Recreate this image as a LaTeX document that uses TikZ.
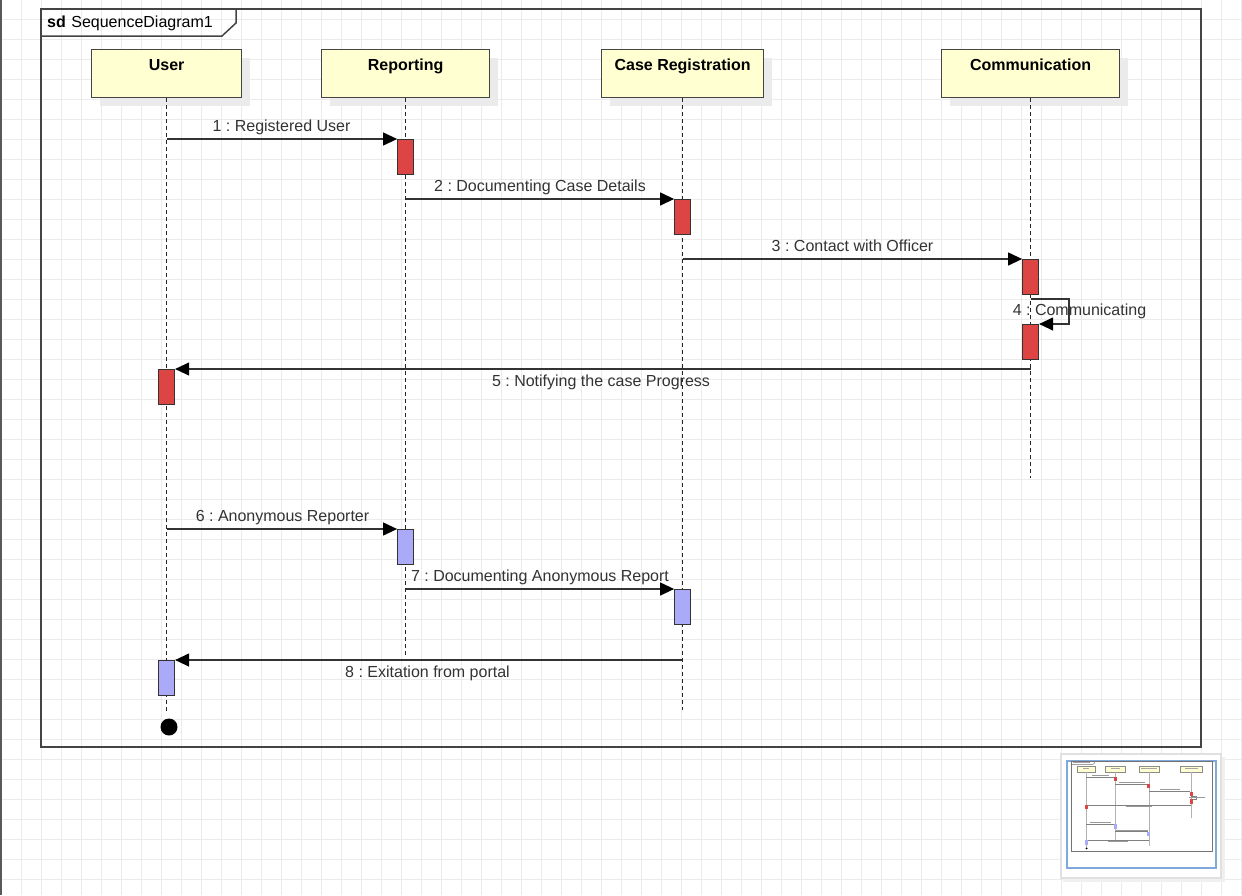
\documentclass[tikz,border=0pt]{standalone}
\usepackage{fontspec}
\setmainfont{Liberation Sans}
\usetikzlibrary{arrows.meta,shadows}
\definecolor{gridc}{HTML}{EBEBEB}
\definecolor{ink}{HTML}{333333}
\definecolor{framec}{HTML}{444444}
\definecolor{headfill}{HTML}{FFFFD2}
\definecolor{actred}{HTML}{DD4444}
\definecolor{actblue}{HTML}{AAAAF8}
\definecolor{minib}{HTML}{7FA8DC}
\frenchspacing
\begin{document}
\begin{tikzpicture}[x=1pt,y=-1pt,
  head/.style={draw=framec, line width=1.2pt, fill=headfill, minimum width=#1,
    minimum height=48pt, inner sep=0pt, anchor=north west,
    font=\bfseries\fontsize{16}{19}\selectfont, text=black,
    text height=12pt, text depth=18pt,
    general shadow={fill=black!8, shadow xshift=8pt, shadow yshift=-8pt}},
  lifeline/.style={black!85, line width=1.3pt, dash pattern=on 4pt off 3pt},
  actbox/.style={anchor=north, minimum width=16pt, minimum height=35pt, inner sep=0pt,
    draw=ink, line width=1pt},
  actr/.style={actbox, fill=actred},
  actb/.style={actbox, fill=actblue},
  msg/.style={ink, line width=1.2pt, -{Triangle[length=14pt,width=13pt,color=black]}},
  lbl/.style={anchor=base, inner sep=0pt, text=ink, font=\fontsize{16}{19}\selectfont},
  mline/.style={black!50, line width=0.3pt},
]
\useasboundingbox (0,0) rectangle (1242,895);
\fill[white] (0,0) rectangle (1242,895);
% background grid
\foreach \gx in {1,21,...,1241} \draw[gridc, line width=0.8pt] (\gx,0) -- (\gx,895);
\foreach \gy in {19,39,...,879} \draw[gridc, line width=0.8pt] (0,\gy) -- (1242,\gy);
\draw[black!65, line width=1.5pt] (0.75,0) -- (0.75,895);

% frame
\draw[framec, line width=1.5pt] (41,9) rectangle (1201,747);
\draw[framec, line width=1.5pt] (41,36) -- (222,36) -- (236,23) -- (236,9);
\node[anchor=base west, inner sep=0pt, text=black, font=\fontsize{16}{19}\selectfont] (title) at (47,27.5) {\textbf{sd}\hspace{5.5pt}SequenceDiagram1};

% heads
\node[head=150pt] (user) at (91,49) {User};
\node[head=168pt] (rep) at (321,49) {Reporting};
\node[head=162pt] (cas) at (601,49) {Case Registration};
\node[head=178pt] (com) at (941,49) {Communication};

% lifelines
\coordinate (userend) at (user.south |- 0,712);
\coordinate (repend) at (rep.south |- 0,658);
\coordinate (casend) at (cas.south |- 0,710);
\coordinate (comend) at (com.south |- 0,478);
\draw[lifeline] (user.south) -- (userend);
\draw[lifeline] (rep.south) -- (repend);
\draw[lifeline] (cas.south) -- (casend);
\draw[lifeline] (com.south) -- (comend);

% activations
\node[actr] (ra1) at (rep.south |- 0,139) {};
\node[actr] (ca1) at (cas.south |- 0,199) {};
\node[actr] (ma1) at (com.south |- 0,259) {};
\node[actr] (ma2) at (com.south |- 0,324) {};
\node[actr] (ua1) at (user.south |- 0,369) {};
\node[actb] (ra2) at (rep.south |- 0,529) {};
\node[actb] (ca2) at (cas.south |- 0,589) {};
\node[actb] (ua2) at (user.south |- 0,660) {};

% message start points
\coordinate (s1) at (user.south |- 0,139);
\coordinate (s2) at (rep.south |- 0,199);
\coordinate (s3) at (cas.south |- 0,259);
\coordinate (s4) at (com.south |- 0,299);
\coordinate (k4) at (1069,299);
\coordinate (s5) at (com.south |- 0,369);
\coordinate (s6) at (user.south |- 0,529);
\coordinate (s7) at (rep.south |- 0,589);
\coordinate (s8) at (cas.south |- 0,660);

% messages
\draw[msg] (s1) -- (ra1.north west);
\draw[msg] (s2) -- (ca1.north west);
\draw[msg] (s3) -- (ma1.north west);
\draw[msg] (s4) -- (k4) |- (ma2.north east);
\draw[msg] (s5) -- (ua1.north east);
\draw[msg] (s6) -- (ra2.north west);
\draw[msg] (s7) -- (ca2.north west);
\draw[msg] (s8) -- (ua2.north east);

% labels
\node[lbl] (l1) at (281.5,131.5) {1 : Registered User};
\node[lbl] (l2) at (540,191.5) {2 : Documenting Case Details};
\node[lbl] (l3) at (852.5,251.5) {3 : Contact with Officer};
\node[lbl] (l4) at (1079.5,315) {4 : Communicating};
\node[lbl] (l5) at (601,386) {5 : Notifying the case Progress};
\node[lbl] (l6) at (282.5,521.5) {6 : Anonymous Reporter};
\node[lbl] (l7) at (540,581.5) {7 : Documenting Anonymous Report};
\node[lbl] (l8) at (427.5,677) {8 : Exitation from portal};

% end point
\node[circle, fill=black, minimum size=17pt, inner sep=0pt] (final) at (169,727) {};

% overview panel
\fill[black!6] (1063,757) rectangle (1225,882);
\filldraw[fill=white, draw=black!12, line width=2.5pt] (1061,754) rectangle (1221,878);
\draw[minib, line width=1.5pt] (1067,761) rectangle (1216,868);
\begin{scope}[shift={(1066,760)}, scale=0.1216]
  \draw[black!55, line width=0.5pt] (41,9) rectangle (1201,747);
  \draw[black!55, line width=0.4pt] (41,36) -- (222,36) -- (236,23) -- (236,9);
  \draw[black!35, line width=0.8pt] (60,22) -- (200,22);
  \filldraw[fill=headfill, draw=black!45, line width=0.35pt] (91,49) rectangle (241,97);
  \filldraw[fill=headfill, draw=black!45, line width=0.35pt] (321,49) rectangle (489,97);
  \filldraw[fill=headfill, draw=black!45, line width=0.35pt] (601,49) rectangle (763,97);
  \filldraw[fill=headfill, draw=black!45, line width=0.35pt] (941,49) rectangle (1119,97);
  \draw[black!35, line width=0.6pt] (140,65) -- (192,65) (370,65) -- (440,65) (620,65) -- (745,65) (975,65) -- (1085,65);
  \draw[black!30, line width=0.3pt] (166,97) -- (166,712) (405,97) -- (405,658) (682,97) -- (682,710) (1030,97) -- (1030,478);
  \draw[mline] (166,139) -- (397,139) (405,199) -- (674,199) (682,259) -- (1022,259)
    (1030,299) -- (1069,299) -- (1069,324) -- (1038,324) (1030,369) -- (174,369)
    (166,529) -- (397,529) (405,589) -- (674,589) (682,660) -- (174,660);
  \fill[actred] (393,139) rectangle (417,174);
  \fill[actred] (670,199) rectangle (694,234);
  \fill[actred] (1018,259) rectangle (1042,294);
  \fill[actred] (1018,324) rectangle (1042,359);
  \fill[actred] (154,369) rectangle (178,404);
  \fill[actblue] (393,529) rectangle (417,564);
  \fill[actblue] (670,589) rectangle (694,624);
  \fill[actblue] (154,660) rectangle (178,695);
  \draw[black!40, line width=0.8pt] (212,125) -- (351,125) (433,185) -- (647,185)
    (771,245) -- (934,245) (1012,309) -- (1147,309) (490,380) -- (711,380)
    (195,515) -- (370,515) (409,575) -- (671,575) (344,671) -- (511,671);
  \fill[black] (169,727) circle (8.5);
\end{scope}
\end{tikzpicture}
\end{document}
